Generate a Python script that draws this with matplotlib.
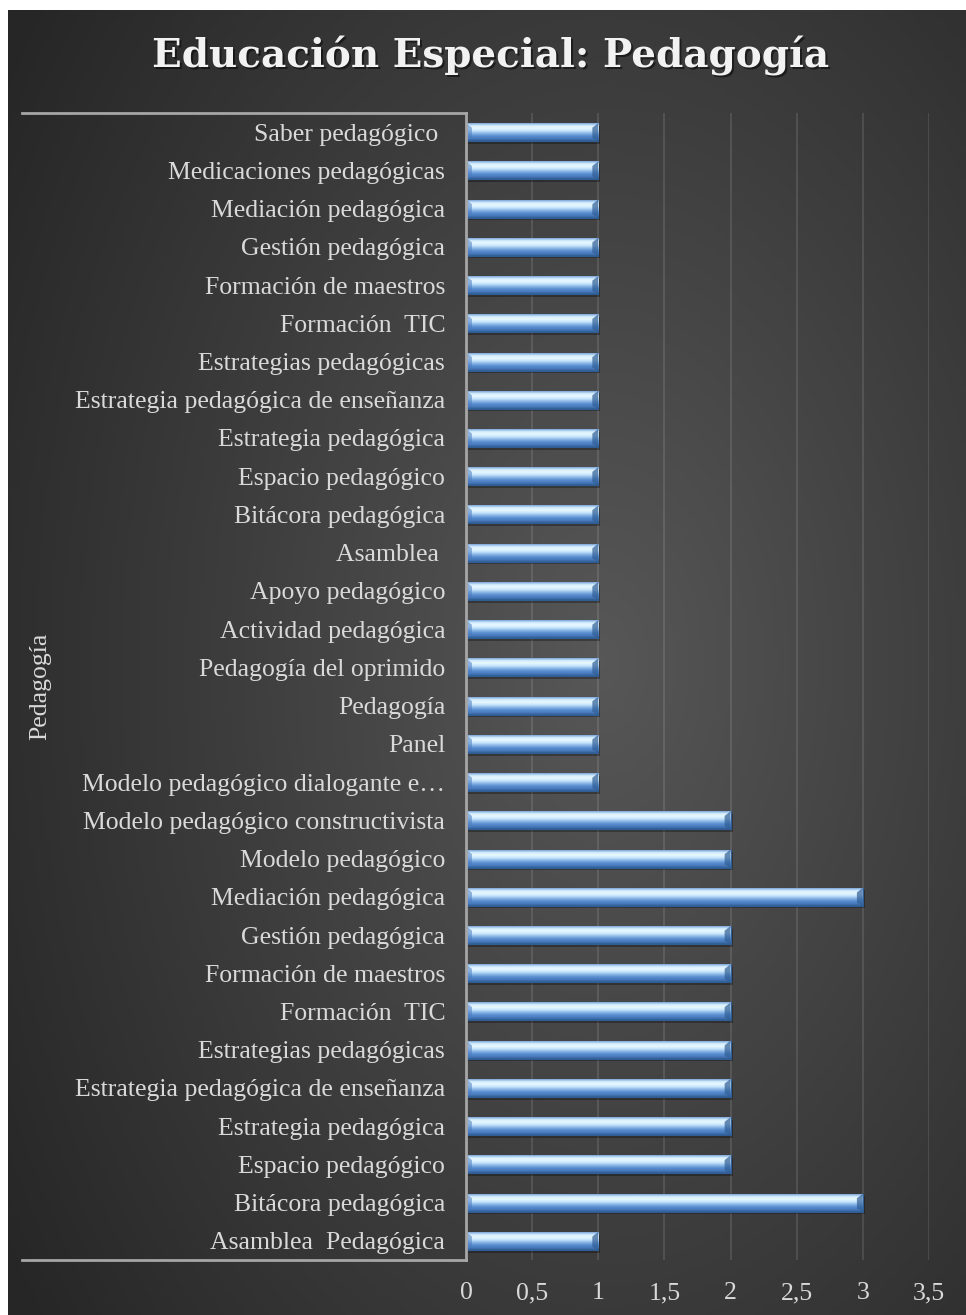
import numpy as np
import matplotlib.pyplot as plt
from matplotlib.colors import LinearSegmentedColormap
from matplotlib.lines import Line2D

# categories listed bottom -> top, as in the chart
labels = [
    "Asamblea  Pedagógica", "Bitácora pedagógica", "Espacio pedagógico",
    "Estrategia pedagógica", "Estrategia pedagógica de enseñanza",
    "Estrategias pedagógicas", "Formación  TIC", "Formación de maestros",
    "Gestión pedagógica", "Mediación pedagógica", "Modelo pedagógico",
    "Modelo pedagógico constructivista", "Modelo pedagógico dialogante e…",
    "Panel", "Pedagogía", "Pedagogía del oprimido", "Actividad pedagógica",
    "Apoyo pedagógico", "Asamblea ", "Bitácora pedagógica", "Espacio pedagógico",
    "Estrategia pedagógica", "Estrategia pedagógica de enseñanza",
    "Estrategias pedagógicas", "Formación  TIC", "Formación de maestros",
    "Gestión pedagógica", "Mediación pedagógica", "Medicaciones pedagógicas",
    "Saber pedagógico ",
]
values = [1, 3, 2, 2, 2, 2, 2, 2, 2, 3, 2, 2, 1,
          1, 1, 1, 1, 1, 1, 1, 1, 1, 1, 1, 1, 1, 1, 1, 1, 1]
xticks = [0, 0.5, 1, 1.5, 2, 2.5, 3, 3.5]
xtick_labels = ["0", "0,5", "1", "1,5", "2", "2,5", "3", "3,5"]
title = "Educación Especial: Pedagogía"
group_label = "Pedagogía"

W, H = 966, 1315
plt.rcParams["font.family"] = ["Liberation Serif", "DejaVu Serif"]
fig = plt.figure(figsize=(W / 100, H / 100), dpi=100, facecolor="white")

# radial background
bg = fig.add_axes([8 / W, 0, 1 - 8 / W, 1 - 10 / H], zorder=-10)
yy, xx = np.mgrid[0:1:400j, 0:1:300j]
r = np.sqrt(((xx - 0.62) / 0.75) ** 2 + ((yy - 0.5) / 0.85) ** 2)
r = np.clip(r, 0, 1)
bg_cmap = LinearSegmentedColormap.from_list("bg", ["#575757", "#3e3e3e", "#262626"])
bg.imshow(r, cmap=bg_cmap, aspect="auto", origin="lower", extent=(0, 1, 0, 1))
bg.axis("off")

left, right, top, bottom = 466, 929, 113, 1260
ax = fig.add_axes([left / W, 1 - bottom / H, (right - left) / W, (bottom - top) / H])
ax.set_facecolor("none")

y = np.arange(len(labels))
h = 0.47
ax.barh(y - 0.07, values, height=h, left=0.015, color="black", alpha=0.3, zorder=2)
bars = ax.barh(y, values, height=h, color="#4f81bd", edgecolor="#2f5d94", linewidth=0.8, zorder=3)

grad_cols = ["#2f5d94", "#4a7cc0", "#5b8fd0", "#8cb8e8", "#c4e4fb", "#e8f8ff", "#d6efff", "#7fa6d8"]
bar_cmap = LinearSegmentedColormap.from_list("bar", grad_cols)
grad = np.linspace(0, 1, 64).reshape(-1, 1)
for b, yi, v in zip(bars, y, values):
    im = ax.imshow(grad, cmap=bar_cmap, origin="lower", aspect="auto",
                   extent=(0, v, yi - h / 2, yi + h / 2), zorder=4)
    im.set_clip_path(b)
    # bevelled ends
    bw = 0.045
    ax.fill([0, bw, bw, 0], [yi + h / 2, yi + h / 2 - 0.12, yi - h / 2 + 0.08, yi - h / 2],
            color="#4a7cc0", alpha=0.55, zorder=5, lw=0)
    ax.fill([v, v - bw, v - bw, v], [yi + h / 2, yi + h / 2 - 0.12, yi - h / 2 + 0.08, yi - h / 2],
            color="#2f5d94", alpha=0.7, zorder=5, lw=0)

ax.set_xlim(0, 3.5)
ax.set_ylim(-0.5, len(labels) - 0.5)
ax.set_xticks(xticks)
ax.set_xticklabels(xtick_labels)
ax.set_yticks(y)
ax.set_yticklabels(labels)
ax.tick_params(axis="both", length=0, labelsize=18.5, colors="#d9d9d9")
ax.tick_params(axis="y", pad=15)
ax.tick_params(axis="x", pad=16)
ax.grid(axis="x", color="white", alpha=0.13, linewidth=1.2, zorder=0)
ax.set_axisbelow(True)
for s in ax.spines.values():
    s.set_visible(False)

# category axis line and group bracket
lc = "#a6a6a6"
fig.add_artist(Line2D([left / W, left / W], [1 - top / H, 1 - bottom / H], color=lc, lw=2))
fig.add_artist(Line2D([22 / W, left / W], [1 - top / H, 1 - top / H], color=lc, lw=2))
fig.add_artist(Line2D([22 / W, left / W], [1 - bottom / H, 1 - bottom / H], color=lc, lw=2))
fig.text(40 / W, 1 - 686 / H, group_label, rotation=90, ha="center", va="center",
         fontsize=18.5, color="#d9d9d9")

# title with a soft shadow
tx, ty = 491 / W, 1 - 56 / H
for dx, dy, col, al in [(2, -2, "black", 0.5), (0, 0, "#f2f2f2", 1.0)]:
    fig.text(tx + dx / W, ty + dy / H, title, ha="center", va="center", fontsize=28,
             fontweight="bold", color=col, alpha=al, family="DejaVu Serif")

fig.savefig("out.png", dpi=100, facecolor="white")
